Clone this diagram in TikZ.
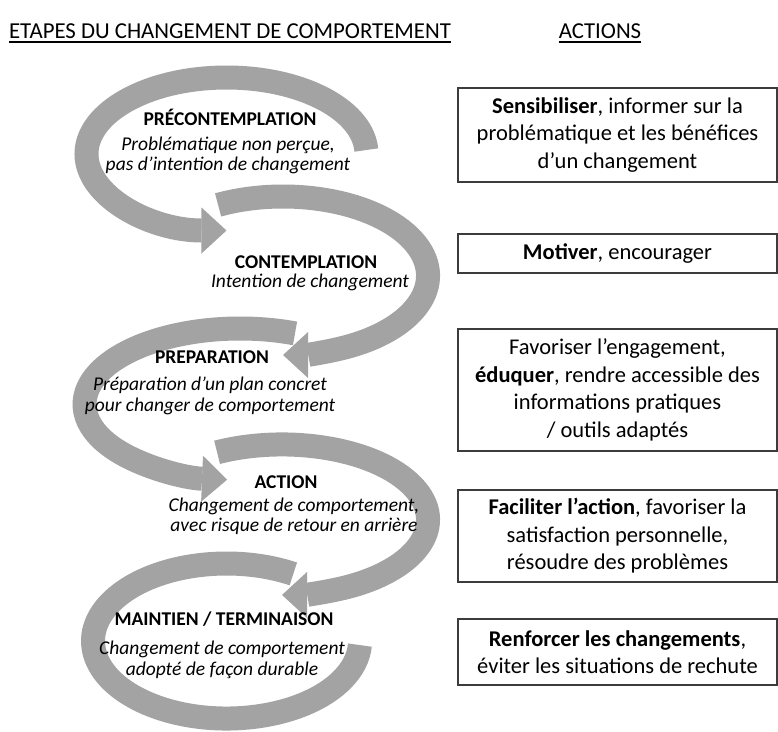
\documentclass[tikz,border=0pt]{standalone}
\usepackage{fontspec}
\setmainfont{Carlito}
\usepackage{tikz}
\usetikzlibrary{arrows.meta}
\definecolor{loopgray}{RGB}{163,163,163}
\definecolor{boxgray}{RGB}{60,60,60}
\tikzset{band/.style={draw=loopgray, line width=24pt}}
\tikzset{halo/.style={preaction={draw=white, line width=28pt}}}
\tikzset{headed/.style={band, preaction={draw=white, line width=28pt, -{Triangle[length=29pt, width=54pt, line width=0pt]}}, -{Triangle[length=25pt, width=46pt, line width=0pt]}}}
\tikzset{heading/.style={anchor=base, inner sep=0pt, font=\fontsize{22.8}{27}\selectfont}}
\tikzset{stagetitle/.style={anchor=base, inner sep=0pt, font=\bfseries\fontsize{19.5}{22}\selectfont}}
\tikzset{stagetext/.style={inner sep=0pt, align=center, font=\itshape\fontsize{19.5}{20.5}\selectfont}}
\tikzset{actionbox/.style={draw=boxgray, line width=1.4pt, minimum width=319pt, inner sep=0pt, align=center, font=\fontsize{22.5}{27.5}\selectfont}}

\begin{document}
\begin{tikzpicture}[x=1pt, y=1pt]
\useasboundingbox (0,0) rectangle (778,-731);

\draw[band, halo] (293.3,-573.9) arc[start angle=60, end angle=357, x radius=133.5, y radius=77.5];
\draw[headed] (217.1,-452.3) arc[start angle=116.4, end angle=-90, x radius=146, y radius=75.25];
\draw[headed] (295,-333.4) arc[start angle=69.3, end angle=265.2, x radius=155.5, y radius=75.75];
\draw[headed] (218.1,-204.9) arc[start angle=116.6, end angle=-90, x radius=145, y radius=79.25];
\draw[headed] (366.3,-150) arc[start angle=3, end angle=270, x radius=140, y radius=76.5];

\node[heading] (etapes) at (230,-38) {ETAPES DU CHANGEMENT DE COMPORTEMENT};
\node[heading] (actions) at (600,-38) {ACTIONS};
\draw[line width=1.6pt] ([yshift=-4pt]etapes.base west) -- ([yshift=-4pt]etapes.base east);
\draw[line width=1.6pt] ([yshift=-4pt]actions.base west) -- ([yshift=-4pt]actions.base east);

\node[stagetitle] (precontemplation) at (230,-125) {PRÉCONTEMPLATION};
\node[stagetext] (precontext) at (228,-155.5) {Problématique non perçue,\\pas d’intention de changement};
\node[stagetitle] (contemplation) at (306,-268) {CONTEMPLATION};
\node[stagetext] (contemtext) at (310,-282) {Intention de changement};
\node[stagetitle] (preparation) at (212,-363) {PREPARATION};
\node[stagetext] (preptext) at (210,-396) {Préparation d’un plan concret\\pour changer de comportement};
\node[stagetitle] (action) at (286,-488) {ACTION};
\node[stagetext] (actiontext) at (294,-516.5) {Changement de comportement,\\avec risque de retour en arrière};
\node[stagetitle] (maintien) at (224,-625) {MAINTIEN / TERMINAISON};
\node[stagetext] (maintext) at (222,-660) {Changement de comportement\\adopté de façon durable};

\node[actionbox, minimum height=94pt] (sensibiliser) at (617.5,-135) {\textbf{Sensibiliser}, informer sur la\\problématique et les bénéfices\\d’un changement};
\node[actionbox, minimum height=39pt] (motiver) at (617.5,-253.5) {\textbf{Motiver}, encourager};
\node[actionbox, minimum height=122pt] (eduquer) at (617.5,-390) {Favoriser l’engagement,\\\textbf{éduquer}, rendre accessible des\\informations pratiques\\/ outils adaptés};
\node[actionbox, minimum height=92pt] (faciliter) at (617.5,-536) {\textbf{Faciliter l’action}, favoriser la\\satisfaction personnelle,\\résoudre des problèmes};
\node[actionbox, minimum height=66pt] (renforcer) at (617.5,-652) {\textbf{Renforcer les changements},\\éviter les situations de rechute};
\end{tikzpicture}
\end{document}
